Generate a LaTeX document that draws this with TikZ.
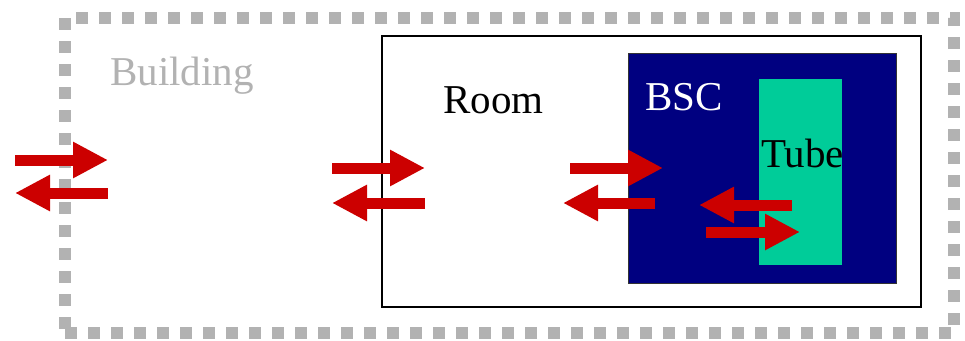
\documentclass[tikz,border=0pt]{standalone}
\usepackage{fontspec}
\setmainfont{Liberation Serif}
\usetikzlibrary{arrows.meta}
\definecolor{bgray}{RGB}{178,178,178}
\definecolor{flowred}{RGB}{204,0,0}
\definecolor{bscblue}{RGB}{0,0,128}
\definecolor{tubegreen}{RGB}{0,204,153}
\tikzset{
  box/.style={rectangle, inner sep=0pt, outer sep=0pt},
  lbl/.style={inner sep=0pt, anchor=base west, font=\fontsize{41}{48}\selectfont},
  flow/.style={draw=flowred, line width=11pt, -{Triangle[length=35pt,width=34pt]}},
}
\begin{document}
\begin{tikzpicture}[x=1pt,y=-1pt]
\useasboundingbox (0,0) rectangle (965,340);
% Building
\node[box, draw=bgray, line width=12pt, dash pattern=on 12pt off 11pt,
      minimum width=889pt, minimum height=315pt] (building) at (509.5,175.5) {};
% Room
\node[box, draw=black, line width=1.4pt, fill=white,
      minimum width=539pt, minimum height=271pt] (room) at (651.5,171.5) {};
% BSC
\node[box, draw=black!80, line width=0.8pt, fill=bscblue,
      minimum width=268pt, minimum height=230pt] (bsc) at (762,168) {};
% Tube
\node[box, fill=tubegreen, minimum width=83pt, minimum height=186pt] (tube) at (800.5,172) {};
% Labels
\node[lbl, text=bgray] (tbuilding) at (110,85) {Building};
\node[lbl, text=black] (troom) at (443,113) {Room};
\node[lbl, text=white] (tbsc) at (645,110) {BSC};
\node[lbl, text=black] (ttube) at (761,167) {Tube};
% Arrow ends
\coordinate (b1s) at (15,160);  \coordinate (b1e) at (108,160);
\coordinate (b2s) at (108,193); \coordinate (b2e) at (15,193);
\coordinate (r1s) at (332,168); \coordinate (r1e) at (425,168);
\coordinate (r2s) at (425,203); \coordinate (r2e) at (332,203);
\coordinate (c1s) at (570,168); \coordinate (c1e) at (663,168);
\coordinate (c2s) at (655,203); \coordinate (c2e) at (563,203);
\coordinate (t1s) at (792,205); \coordinate (t1e) at (699,205);
\coordinate (t2s) at (706,232); \coordinate (t2e) at (800,232);
\draw[flow] (b1s) -- (b1e);
\draw[flow] (b2s) -- (b2e);
\draw[flow] (r1s) -- (r1e);
\draw[flow] (r2s) -- (r2e);
\draw[flow] (c1s) -- (c1e);
\draw[flow] (c2s) -- (c2e);
\draw[flow] (t1s) -- (t1e);
\draw[flow] (t2s) -- (t2e);
\end{tikzpicture}
\end{document}
